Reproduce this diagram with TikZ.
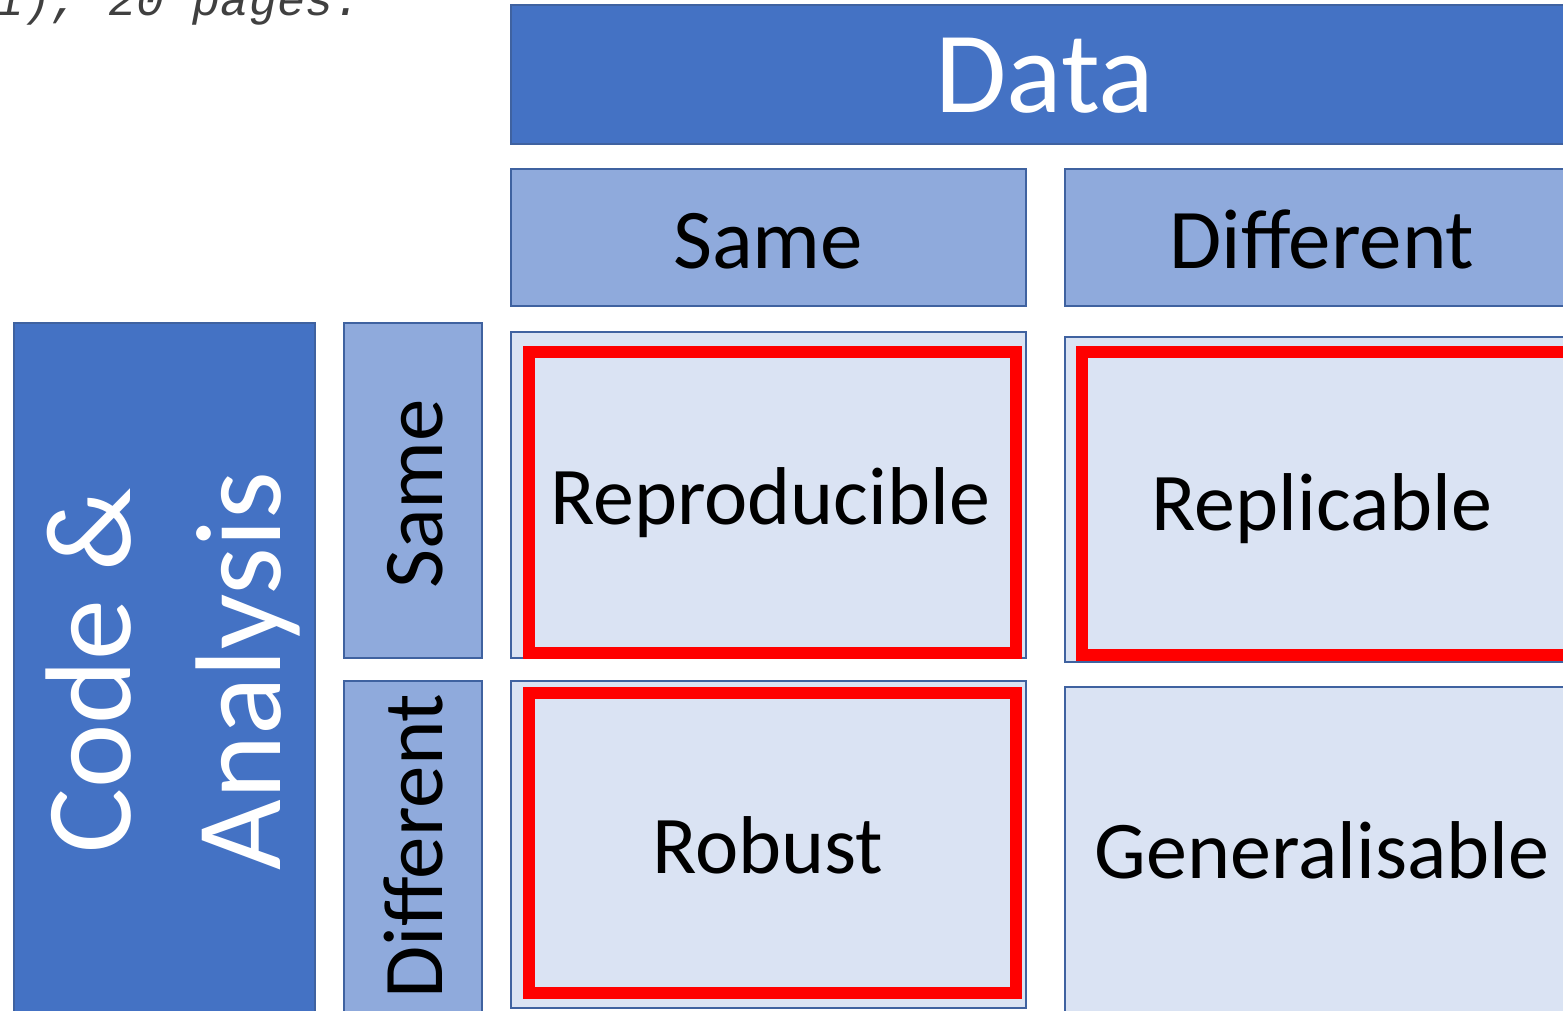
\documentclass[tikz,border=0pt]{standalone}
\usepackage{fontspec}
\setmainfont{Carlito}
\newfontfamily\codefont{Liberation Mono}
\definecolor{accentdark}{HTML}{4472C4}
\definecolor{accentmid}{HTML}{8FAADC}
\definecolor{accentlight}{HTML}{DAE3F3}
\definecolor{edgeblue}{HTML}{3F62A0}
\definecolor{hilite}{HTML}{FF0000}
\definecolor{notegray}{HTML}{404040}
\tikzset{
  box/.style={draw=edgeblue, line width=1.8pt},
  darkbox/.style={box, fill=accentdark},
  midbox/.style={box, fill=accentmid},
  cellbox/.style={box, fill=accentlight},
  hibox/.style={draw=hilite, line width=12pt},
  bigtxt/.style={text=white, inner sep=0pt, anchor=base, font=\fontsize{116}{130}\selectfont},
  sidetxt/.style={text=white, inner sep=0pt, anchor=base, rotate=90, font=\fontsize{122}{140}\selectfont},
  headtxt/.style={text=black, inner sep=0pt, anchor=base, font=\fontsize{85}{100}\selectfont},
  rowtxt/.style={headtxt, rotate=90},
  celltxt/.style={text=black, inner sep=0pt, anchor=base, font=\fontsize{82}{100}\selectfont},
}
\begin{document}
\begin{tikzpicture}[x=1pt, y=-1pt]
\useasboundingbox (0,0) rectangle (1563,1011);
\clip (0,0) rectangle (1563,1011);

% reference line above the table
\node[anchor=base west, inner sep=0pt, text=notegray,
      font=\codefont\itshape\fontsize{47}{50}\selectfont] (note) at (-5,16) {1), 20 pages.};

% column banner and column headers
\draw[darkbox] (511,5) rectangle (1580,144);
\node[bigtxt] (data) at (1045,113) {Data};
\draw[midbox] (511,169) rectangle (1026,306);
\node[headtxt] (colsame) at (768,268) {Same};
\draw[midbox] (1065,169) rectangle (1580,306);
\node[headtxt] (coldiff) at (1322,268) {Different};

% row banner and row headers
\draw[darkbox] (14,323) rectangle (315,1030);
\node[sidetxt] (code) at (130,671) {Code \&};
\node[sidetxt] (analysis) at (280,671) {Analysis};
\draw[midbox] (344,323) rectangle (482,658);
\node[rowtxt] (rowsame) at (442,494) {Same};
\draw[midbox] (344,681) rectangle (482,1030);
\node[rowtxt] (rowdiff) at (442,846) {Different};

% the four cells
\draw[cellbox] (511,332) rectangle (1026,658);
\draw[cellbox] (1065,337) rectangle (1580,662);
\draw[cellbox] (511,681) rectangle (1026,1008);
\draw[cellbox] (1065,687) rectangle (1580,1030);

% highlighted cells
\draw[hibox] (529,352) rectangle (1016,653);
\draw[hibox] (1082,352) rectangle (1590,655);
\draw[hibox] (529,693) rectangle (1016,993);

\node[celltxt] (repro) at (770,524) {Reproducible};
\node[celltxt] (repl) at (1322,530) {Replicable};
\node[celltxt] (robust) at (768,873) {Robust};
\node[celltxt] (gen) at (1322,878) {Generalisable};
\end{tikzpicture}
\end{document}
